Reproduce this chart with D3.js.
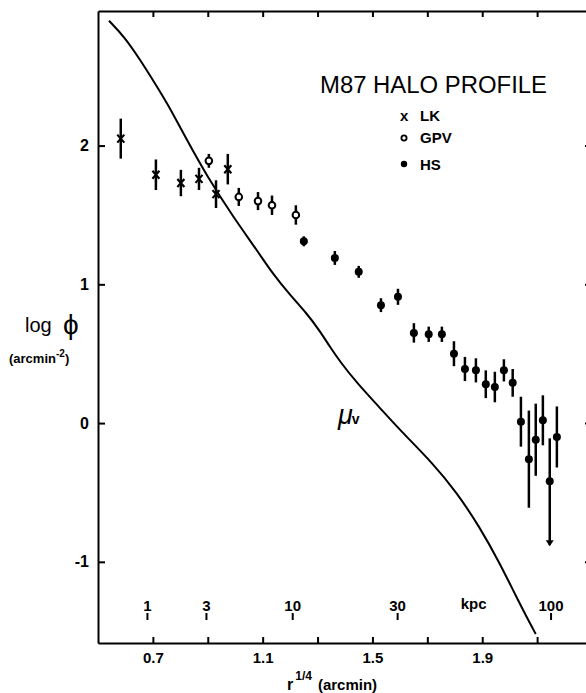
<!DOCTYPE html>
<html>
<head>
<meta charset="utf-8">
<script src="https://cdn.jsdelivr.net/npm/d3@7"></script>
<style>
  body { margin: 0; background: #fff; }
  svg { display: block; font-family: 'Liberation Sans', 'DejaVu Sans', Arial, sans-serif; }
  .axis path, .axis line { stroke: #000; stroke-width: 2; }
  .axis text { font-size: 15px; font-weight: bold; fill: #000; }
</style>
</head>
<body>
<script>
// LK points (x markers)
let lkX = [0.583, 0.711, 0.802, 0.868, 0.930, 0.973];
let lkY = [2.05, 1.79, 1.73, 1.76, 1.65, 1.83];
let lkErr = [0.144, 0.11, 0.095, 0.08, 0.10, 0.11];

// GPV points (open circles)
let gpvX = [0.904, 1.013, 1.083, 1.134, 1.221];
let gpvY = [1.89, 1.63, 1.60, 1.57, 1.50];
let gpvErr = [0.05, 0.065, 0.065, 0.07, 0.07];

// HS points (filled circles)
let hsX = [1.250, 1.363, 1.450, 1.531, 1.593, 1.651, 1.705, 1.753, 1.797, 1.837,
  1.877, 1.913, 1.946, 1.979, 2.011, 2.041, 2.070, 2.095, 2.121, 2.146, 2.172];
let hsY = [1.31, 1.19, 1.09, 0.85, 0.91, 0.65, 0.64, 0.64, 0.50, 0.39,
  0.38, 0.28, 0.26, 0.38, 0.29, 0.01, -0.26, -0.12, 0.02, -0.42, -0.10];
let hsErrHi = [0.036, 0.05, 0.043, 0.05, 0.058, 0.07, 0.055, 0.055, 0.09, 0.087,
  0.087, 0.10, 0.11, 0.08, 0.10, 0.18, 0.35, 0.26, 0.18, 0.31, 0.22];
let hsErrLo = [0.036, 0.05, 0.043, 0.05, 0.058, 0.07, 0.055, 0.055, 0.09, 0.087,
  0.087, 0.10, 0.11, 0.08, 0.10, 0.18, 0.35, 0.26, 0.18, 0.46, 0.22];
// index of the point drawn as an upper limit (arrow)
let hsArrow = [19];

// mu_v model curve
let muX = [0.540, 0.598, 0.653, 0.707, 0.751, 0.824, 0.897, 0.991, 1.083, 1.137,
  1.199, 1.261, 1.308, 1.345, 1.381, 1.443, 1.527, 1.600, 1.720, 1.807,
  1.891, 1.964, 2.026, 2.073, 2.095];
let muY = [2.90, 2.78, 2.62, 2.45, 2.31, 2.04, 1.78, 1.49, 1.235, 1.075,
  0.925, 0.79, 0.665, 0.55, 0.445, 0.29, 0.11, -0.05, -0.29, -0.50,
  -0.75, -1.01, -1.26, -1.44, -1.52];

// ticks
let xTicks = [0.7, 0.9, 1.1, 1.3, 1.5, 1.7, 1.9, 2.1];
let xTickLabels = ['0.7', '', '1.1', '', '1.5', '', '1.9', ''];
let yTicks = [-1, 0, 1, 2];
let kpcTicks = [1, 3, 10, 30, 100];
let kpcLabels = ['1', '3', '10', '30', '100'];
let arcminPerKpc = 0.214;

let W = 586, H = 693;
let margin = { left: 98, top: 11 };
let width = 494;
let height = 632;

let svg = d3.select('body')
  .append('svg')
  .attr('width', W)
  .attr('height', H);

let x = d3.scaleLinear().domain([0.5, 2.3]).range([0, width]);
let y = d3.scaleLinear().domain([-1.585, 2.97]).range([height, 0]);

let g = svg.append('g')
  .attr('transform', 'translate(' + margin.left + ',' + margin.top + ')');

// axes, ticks pointing inward
let xb = d3.axisBottom(x).tickValues(xTicks).tickSizeInner(-6).tickSizeOuter(0).tickPadding(9)
  .tickFormat(function (d, i) { return xTickLabels[i]; });
let xt = d3.axisTop(x).tickValues(xTicks).tickSizeInner(-6).tickSizeOuter(0).tickFormat('');
let yl = d3.axisLeft(y).tickValues(yTicks).tickSizeInner(-7).tickSizeOuter(0).tickPadding(9)
  .tickFormat(function (d) { return d; });
let yr = d3.axisRight(y).tickValues(yTicks).tickSizeInner(-7).tickSizeOuter(0).tickFormat('');

g.append('g').attr('class', 'axis').attr('transform', 'translate(0,' + height + ')').call(xb);
g.append('g').attr('class', 'axis').call(xt);
g.append('g').attr('class', 'axis y-left').call(yl);
g.append('g').attr('class', 'axis').attr('transform', 'translate(' + width + ',0)').call(yr);
g.selectAll('.y-left text').style('font-size', '16px');

// kpc scale inside the plot
let kpc = g.append('g');
kpcTicks.forEach(function (k, i) {
  let px = x(Math.pow(k * arcminPerKpc, 0.25));
  kpc.append('line')
    .attr('x1', px).attr('x2', px)
    .attr('y1', height - 30).attr('y2', height - 23)
    .attr('stroke', '#000').attr('stroke-width', 2);
  kpc.append('text')
    .attr('x', px).attr('y', height - 32)
    .attr('text-anchor', 'middle')
    .style('font-size', '15px').style('font-weight', 'bold')
    .text(kpcLabels[i]);
});
kpc.append('text')
  .attr('x', x(1.869)).attr('y', height - 34)
  .attr('text-anchor', 'middle')
  .style('font-size', '15px').style('font-weight', 'bold')
  .text('kpc');

// model curve
let muData = muX.map(function (d, i) { return [d, muY[i]]; });
let line = d3.line()
  .x(function (d) { return x(d[0]); })
  .y(function (d) { return y(d[1]); })
  .curve(d3.curveBasis);
g.append('path')
  .attr('d', line(muData))
  .attr('fill', 'none')
  .attr('stroke', '#000')
  .attr('stroke-width', 2);

function errBars(xs, ys, lo, hi) {
  g.append('g').selectAll('line')
    .data(xs)
    .enter().append('line')
    .attr('x1', function (d) { return x(d); })
    .attr('x2', function (d) { return x(d); })
    .attr('y1', function (d, i) { return y(ys[i] + hi[i]); })
    .attr('y2', function (d, i) { return y(ys[i] - lo[i]); })
    .attr('stroke', '#000')
    .attr('stroke-width', 2.5);
}

// LK
errBars(lkX, lkY, lkErr, lkErr);
let lkG = g.append('g');
lkX.forEach(function (d, i) {
  let cx = x(d), cy = y(lkY[i]);
  lkG.append('path')
    .attr('d', 'M' + (cx - 3.5) + ',' + (cy - 4) + 'L' + (cx + 3.5) + ',' + (cy + 4) +
      'M' + (cx + 3.5) + ',' + (cy - 4) + 'L' + (cx - 3.5) + ',' + (cy + 4))
    .attr('stroke', '#000').attr('stroke-width', 2.2);
});

// GPV
errBars(gpvX, gpvY, gpvErr, gpvErr);
g.append('g').selectAll('circle')
  .data(gpvX)
  .enter().append('circle')
  .attr('cx', function (d) { return x(d); })
  .attr('cy', function (d, i) { return y(gpvY[i]); })
  .attr('r', 3.3)
  .attr('fill', '#fff')
  .attr('stroke', '#000')
  .attr('stroke-width', 2);

// HS
errBars(hsX, hsY, hsErrLo, hsErrHi);
g.append('g').selectAll('circle')
  .data(hsX)
  .enter().append('circle')
  .attr('cx', function (d) { return x(d); })
  .attr('cy', function (d, i) { return y(hsY[i]); })
  .attr('r', 4)
  .attr('fill', '#000');
hsArrow.forEach(function (i) {
  let ax = x(hsX[i]), ay = y(hsY[i] - hsErrLo[i]);
  g.append('path')
    .attr('d', 'M' + (ax - 4) + ',' + (ay - 5) + 'L' + (ax + 4) + ',' + (ay - 5) + 'L' + ax + ',' + (ay + 1) + 'Z')
    .attr('fill', '#000');
});

// title and legend
svg.append('text')
  .attr('x', 320).attr('y', 93)
  .attr('textLength', 227).attr('lengthAdjust', 'spacingAndGlyphs')
  .style('font-size', '23px')
  .text('M87 HALO PROFILE');

let leg = svg.append('g').style('font-size', '15px').style('font-weight', 'bold');
leg.append('text').attr('x', 400).attr('y', 121).text('x');
leg.append('text').attr('x', 420).attr('y', 121).text('LK');
leg.append('circle').attr('cx', 404).attr('cy', 138).attr('r', 2.6)
  .attr('fill', '#fff').attr('stroke', '#000').attr('stroke-width', 1.8);
leg.append('text').attr('x', 420).attr('y', 143).text('GPV');
leg.append('circle').attr('cx', 404).attr('cy', 164).attr('r', 3.2).attr('fill', '#000');
leg.append('text').attr('x', 420).attr('y', 170).text('HS');

// mu_v label
let mu = svg.append('text').attr('x', 338).attr('y', 424);
mu.append('tspan').style('font-size', '27px').style('font-style', 'italic').text('\u03bc');
mu.append('tspan').style('font-size', '14px').style('font-weight', 'bold').attr('dx', -1).text('v');

// y label
svg.append('text')
  .attr('x', 25).attr('y', 332)
  .style('font-size', '20px')
  .text('log');
svg.append('text')
  .attr('x', 63).attr('y', 334)
  .style('font-size', '28px')
  .text('\u03d5');
let yu = svg.append('text').attr('x', 9).attr('y', 363)
  .style('font-size', '13px').style('font-weight', 'bold');
yu.append('tspan').text('(arcmin');
yu.append('tspan').attr('dy', -6).style('font-size', '10px').text('-2');
yu.append('tspan').attr('dy', 6).text(')');

// x label
let xl = svg.append('text').attr('x', 287).attr('y', 690)
  .style('font-size', '16px').style('font-weight', 'bold');
xl.append('tspan').text('r');
xl.append('tspan').attr('dy', -10).attr('dx', 2).style('font-size', '12px').text('1/4');
xl.append('tspan').attr('dy', 10).attr('dx', 6).style('font-size', '15px').text('(arcmin)');
</script>
</body>
</html>
